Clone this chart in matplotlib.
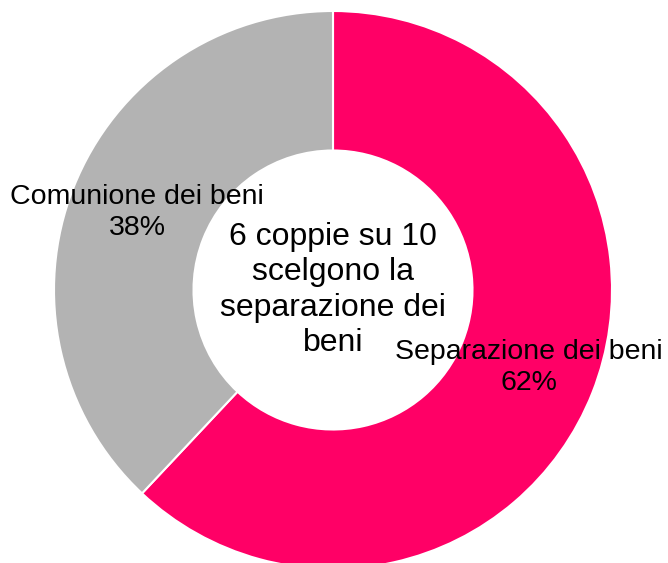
import matplotlib
matplotlib.use("Agg")
import matplotlib.pyplot as plt

# data
categories = ['Separazione dei beni', 'Comunione dei beni']
shares = [62, 38]
colors = ['#FF0066', '#B3B3B3']
center_text = '6 coppie su 10\nscelgono la\nseparazione dei\nbeni'

plt.rcParams['font.family'] = ['Liberation Sans', 'DejaVu Sans']

fig = plt.figure(figsize=(6.68, 5.63), dpi=100)
ax = fig.add_axes([0, 0, 1, 1])

labels = [f'{c}\n{v}%' for c, v in zip(categories, shares)]
wedges, texts = ax.pie(shares, labels=labels, colors=colors, startangle=90,
                       counterclock=False, labeldistance=0.755,
                       wedgeprops=dict(width=0.5, edgecolor='white', linewidth=1.5),
                       textprops=dict(fontsize=20.5, color='black', linespacing=1.22))
for t in texts:
    t.set_ha('center')
    t.set_va('center')

ax.text(0, 0.0, center_text, ha='center', va='center', fontsize=23, linespacing=1.24)

# place the circle like the reference (center ~ (333, 290) px, radius ~279 px)
r = 279.0
ax.set_xlim(-333 / r, (668 - 333) / r)
ax.set_ylim(-(563 - 290) / r, 290 / r)
ax.set_aspect('equal')
ax.axis('off')

fig.savefig('out.png', dpi=100)
